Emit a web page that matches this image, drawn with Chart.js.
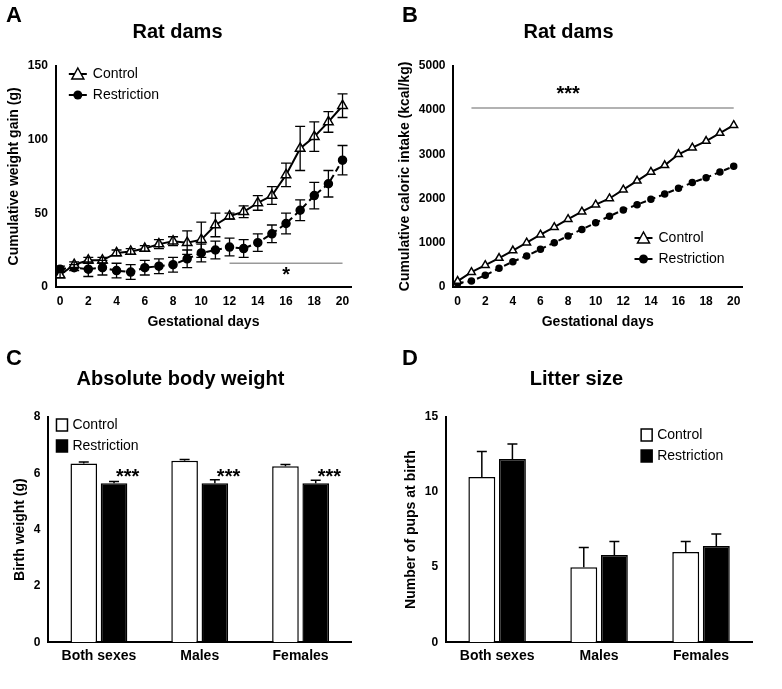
<!DOCTYPE html>
<html><head><meta charset="utf-8">
<script src="https://cdn.jsdelivr.net/npm/chart.js@4"></script>
<style>
body{margin:0;background:#fff;font-family:"Liberation Sans",Arial,sans-serif;}
#wrap{position:relative;width:782px;height:689px;}
canvas{position:absolute;}
.lt{position:absolute;font-weight:bold;font-size:22px;}
</style></head><body>
<div id="wrap">
<canvas id="a" style="left:0;top:0"></canvas>
<canvas id="b" style="left:391px;top:0"></canvas>
<canvas id="c" style="left:0;top:345px"></canvas>
<canvas id="d" style="left:391px;top:345px"></canvas>
<div class="lt" style="left:6px;top:2px">A</div>
<div class="lt" style="left:402px;top:2px">B</div>
<div class="lt" style="left:6px;top:345px">C</div>
<div class="lt" style="left:402px;top:345px">D</div>
</div>
<script>
const days = [0,1,2,3,4,5,6,7,8,9,10,11,12,13,14,15,16,17,18,19,20];
const gainControl = [8,15,18,18,23,24,26,29,31,30,32,42,48,51,57,62,76,94,102,112,123];
const gainControlErr = [2,2,2,2,2,2,2,3,3,8,12,8,2,4,5,6,8,15,10,7,8];
const gainRestr = [12,13,12,13,11,10,13,14,15,19,23,25,27,26,30,36,43,52,62,70,86];
const gainRestrErr = [2,2,5,5,5,5,5,5,5,6,6,6,6,6,6,6,7,7,9,9,10];
const intakeControl = [130,330,490,650,820,1000,1180,1350,1530,1700,1860,2000,2200,2400,2600,2750,3000,3150,3300,3480,3660];
const intakeRestr = [80,130,260,420,570,700,850,1000,1150,1300,1450,1600,1740,1860,1980,2100,2230,2360,2470,2600,2730];
const groups = ["Both sexes","Males","Females"];
const bwControl = [6.35,6.45,6.25];
const bwControlErr = [0.05,0.04,0.06];
const bwRestr = [5.65,5.65,5.65];
const bwRestrErr = [0.06,0.12,0.1];
const litterControl = [11,5,6];
const litterControlErr = [1.7,1.3,0.7];
const litterRestr = [12.2,5.8,6.4];
const litterRestrErr = [1,0.9,0.8];
const sigA = {from:12, to:20, y:16, label:"*", lx:16, ly:8};
const sigB = {from:1, to:20, y:4050, label:"***", lx:8, ly:4350};

const FONT = "'Liberation Sans', Arial, sans-serif";
Chart.defaults.font.family = FONT;
Chart.defaults.color = "#000";

const errPlugin = {
  id: "err",
  afterDatasetsDraw(chart) {
    const ctx = chart.ctx, ys = chart.scales.y;
    chart.data.datasets.forEach((ds, di) => {
      if (!ds.err) return;
      const meta = chart.getDatasetMeta(di);
      ctx.save(); ctx.strokeStyle = "#000"; ctx.lineWidth = 1.5;
      meta.data.forEach((el, i) => {
        const v = ds.data[i], e = ds.err[i];
        const top = ys.getPixelForValue(v + e), bot = ys.getPixelForValue(v);
        ctx.beginPath();
        ctx.moveTo(el.x, top); ctx.lineTo(el.x, bot);
        ctx.moveTo(el.x - 5, top); ctx.lineTo(el.x + 5, top);
        ctx.stroke();
      });
      ctx.restore();
    });
  }
};

const lineErr = {
  id: "lineErr",
  afterDatasetsDraw(chart) {
    const ctx = chart.ctx, ys = chart.scales.y;
    chart.data.datasets.forEach((ds, di) => {
      if (!ds.err) return;
      const meta = chart.getDatasetMeta(di);
      ctx.save(); ctx.strokeStyle = "#000"; ctx.lineWidth = 1.3;
      meta.data.forEach((el, i) => {
        const v = ds.data[i].y, e = ds.err[i];
        const t = ys.getPixelForValue(v + e), b = ys.getPixelForValue(v - e);
        ctx.beginPath();
        ctx.moveTo(el.x, t); ctx.lineTo(el.x, b);
        ctx.moveTo(el.x - 5, t); ctx.lineTo(el.x + 5, t);
        ctx.moveTo(el.x - 5, b); ctx.lineTo(el.x + 5, b);
        ctx.stroke();
      });
      ctx.restore();
    });
  }
};

const sigPlugin = {
  id: "sig",
  afterDraw(chart, args, o) {
    const ctx = chart.ctx, xs = chart.scales.x, ys = chart.scales.y;
    ctx.save();
    if (o.line) {
      const s = o.line;
      ctx.strokeStyle = "#999"; ctx.lineWidth = 1.5;
      ctx.beginPath();
      ctx.moveTo(xs.getPixelForValue(s.from), ys.getPixelForValue(s.y));
      ctx.lineTo(xs.getPixelForValue(s.to), ys.getPixelForValue(s.y));
      ctx.stroke();
      ctx.fillStyle = "#000"; ctx.font = "bold 20px " + FONT; ctx.textAlign = "center"; ctx.textBaseline = "middle";
      ctx.fillText(s.label, xs.getPixelForValue(s.lx), ys.getPixelForValue(s.ly));
    }
    if (o.stars) {
      const meta = chart.getDatasetMeta(1);
      ctx.fillStyle = "#000"; ctx.font = "bold 20px " + FONT; ctx.textAlign = "left"; ctx.textBaseline = "middle";
      meta.data.forEach((el, i) => {
        ctx.fillText("***", el.x + 2, ys.getPixelForValue(chart.data.datasets[1].data[i]) - 6);
      });
    }
    if (o.legend) {
      const L = o.legend;
      ctx.font = "14px " + FONT; ctx.textAlign = "left"; ctx.textBaseline = "middle";
      chart.data.datasets.forEach((ds, i) => {
        const x = chart.chartArea.left + L.x, y = chart.chartArea.top + L.y + i * 21;
        if (L.bar) {
          ctx.fillStyle = ds.backgroundColor; ctx.strokeStyle = "#000"; ctx.lineWidth = 1.5;
          ctx.fillRect(x, y - 6, 11, 12); ctx.strokeRect(x, y - 6, 11, 12);
        } else {
          ctx.strokeStyle = "#000"; ctx.lineWidth = 2;
          ctx.beginPath(); ctx.moveTo(x - 9, y); ctx.lineTo(x + 9, y); ctx.stroke();
          ctx.lineWidth = 1.5;
          if (i === 0) {
            ctx.fillStyle = "#fff"; ctx.beginPath();
            ctx.moveTo(x, y - 6); ctx.lineTo(x + 6, y + 5); ctx.lineTo(x - 6, y + 5); ctx.closePath();
            ctx.fill(); ctx.stroke();
          } else {
            ctx.fillStyle = "#000"; ctx.beginPath(); ctx.arc(x, y, 4.5, 0, Math.PI * 2); ctx.fill();
          }
        }
        ctx.fillStyle = "#000";
        ctx.fillText(ds.label, x + (L.bar ? 16 : 15), y);
      });
    }
    ctx.restore();
  }
};

const tickFont = { size: 12, weight: "bold" };
function axis(extra) {
  return Object.assign({
    grid: { display: false, drawTicks: true, tickLength: 5, tickColor: "#000" },
    border: { color: "#000", width: 2 },
  }, extra);
}
function title(t) {
  return { display: true, text: t, font: { size: 14, weight: "bold" }, color: "#000", padding: 2 };
}

function lineChart(id, ctrl, ctrlErr, restr, restrErr, yMax, yStep, yTitle, pad, sig, leg, pr) {
  const el = document.getElementById(id); el.width = 391; el.height = 345;
  const mk = (label, data, err, tri) => ({
    label, data: days.map((d, i) => ({ x: d, y: data[i] })), err,
    borderColor: "#000", borderWidth: 2, borderDash: tri ? [] : [6, 4],
    pointStyle: tri ? "triangle" : "circle", pointRadius: tri ? pr + 1.5 : pr,
    pointBackgroundColor: tri ? "#fff" : "#000", pointBorderColor: "#000", pointBorderWidth: 1.5,
  });
  return new Chart(el, {
    type: "line",
    data: { datasets: [mk("Control", ctrl, ctrlErr, true), mk("Restriction", restr, restrErr, false)] },
    options: {
      responsive: false, animation: false,
      layout: { padding: pad },
      plugins: { legend: { display: false }, tooltip: { enabled: false },
        title: { display: true, text: "Rat dams", font: { size: 20, weight: "bold" }, color: "#000", padding: { top: 20, bottom: 22 } },
        sig: { line: sig, legend: leg } },
      scales: {
        x: axis({ type: "linear", min: -0.3, max: 20.6,
          afterBuildTicks: s => { s.ticks = days.filter(d => d % 2 === 0).map(v => ({ value: v })); },
          ticks: { autoSkip: false, maxRotation: 0, minRotation: 0, font: tickFont, color: "#000", callback: v => String(v) },
          title: title("Gestational days") }),
        y: axis({ min: 0, max: yMax, ticks: { stepSize: yStep, font: tickFont, color: "#000", callback: v => String(v) }, title: title(yTitle) }),
      },
    },
    plugins: [lineErr, sigPlugin],
  });
}

function barChart(id, ctrl, ctrlErr, restr, restrErr, yMax, yStep, yTitle, chartTitle, pad, stars, leg) {
  const el = document.getElementById(id); el.width = 391; el.height = 344;
  const common = { borderColor: "#000", borderWidth: 1.5, categoryPercentage: 0.6, barPercentage: 0.88 };
  return new Chart(el, {
    type: "bar",
    data: { labels: groups, datasets: [
      Object.assign({ label: "Control", data: ctrl, err: ctrlErr, backgroundColor: "#fff" }, common),
      Object.assign({ label: "Restriction", data: restr, err: restrErr, backgroundColor: "#000" }, common),
    ]},
    options: {
      responsive: false, animation: false,
      layout: { padding: pad },
      plugins: { legend: { display: false }, tooltip: { enabled: false },
        title: { display: true, text: chartTitle, font: { size: 20, weight: "bold" }, color: "#000", padding: { top: 22, bottom: 26 } },
        sig: { stars, legend: leg } },
      scales: {
        x: axis({ grid: { display: false, drawTicks: false }, ticks: { font: { size: 14, weight: "bold" }, color: "#000", padding: 6 } }),
        y: axis({ min: 0, max: yMax, ticks: { stepSize: yStep, font: tickFont, color: "#000" }, title: title(yTitle) }),
      },
    },
    plugins: [errPlugin, sigPlugin],
  });
}

lineChart("a", gainControl, gainControlErr, gainRestr, gainRestrErr, 150, 50, "Cumulative weight gain (g)", { left: 4, right: 40, top: 0, bottom: 12 }, sigA, { x: 22, y: 8 }, 4);
lineChart("b", intakeControl, null, intakeRestr, null, 5000, 1000, "Cumulative caloric intake (kcal/kg)", { left: 4, right: 40, top: 0, bottom: 12 }, sigB, { x: 190, y: 172 }, 3);
barChart("c", bwControl, bwControlErr, bwRestr, bwRestrErr, 8, 2, "Birth weight (g)", "Absolute body weight", { left: 10, right: 40, top: 0, bottom: 18 }, true, { x: 8, y: 8, bar: true });
barChart("d", litterControl, litterControlErr, litterRestr, litterRestrErr, 15, 5, "Number of pups at birth", "Litter size", { left: 10, right: 30, top: 0, bottom: 18 }, false, { x: 195, y: 18, bar: true });
</script>
</body></html>
